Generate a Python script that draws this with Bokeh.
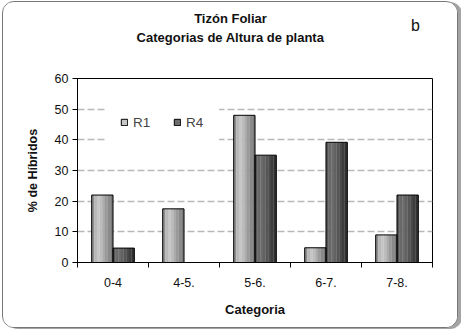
from bokeh.plotting import figure
from bokeh.layouts import column
from bokeh.models import (ColumnDataSource, Range1d, FixedTicker, Legend, LegendItem)
from bokeh.core.properties import value
from bokeh.transform import dodge
from bokeh.embed import file_html
from bokeh.resources import INLINE

categories = ["0-4", "4-5.", "5-6.", "6-7.", "7-8."]
r1 = [22.0, 17.5, 48.0, 4.8, 9.0]
r4 = [4.7, 0.0, 35.0, 39.2, 22.0]
y_ticks = [0, 10, 20, 30, 40, 50, 60]
title_lines = ["Tizón Foliar", "Categorias de Altura de planta"]
panel_letter = "b"

FONT = "Liberation Sans"
W = 454
TOP_H = 66
BL, BR = 74, 25  # borders of the chart frame

# ---- header (titles) ----
# in a column Bokeh aligns the frames, so the header frame spans the same pixels as the chart frame
head = figure(width=W, height=TOP_H, output_backend="svg", toolbar_location=None,
              x_range=Range1d(BL, W - BR), y_range=Range1d(0, TOP_H),
              x_axis_type=None, y_axis_type=None,
              min_border=0, outline_line_color=None)
head.grid.visible = False
head.background_fill_color = "white"
head.border_fill_color = "white"
head.text(x=[227, 227], y=[TOP_H - 16, TOP_H - 35], text=title_lines,
          text_font=value(FONT), text_font_size="13px", text_font_style="bold",
          text_align="center", text_baseline="middle", text_color="#111111")
head.text(x=[412], y=[TOP_H - 23], text=[panel_letter],
          text_font=value(FONT), text_font_size="16px",
          text_align="center", text_baseline="middle", text_color="#111111")

# ---- main chart ----
xc = [i + 0.5 for i in range(len(categories))]
src = ColumnDataSource(dict(x=xc, r1=r1, r4=r4))

p = figure(width=W, height=325 - TOP_H, output_backend="svg", toolbar_location=None,
           x_range=Range1d(0, len(categories)), y_range=Range1d(0, 60),
           min_border_left=BL, min_border_right=BR, min_border_top=10, min_border_bottom=65)
p.background_fill_color = "white"
p.border_fill_color = "white"
p.outline_line_color = "black"
p.outline_line_width = 1

bw = 0.3
n = 8
w = bw / n
c1 = ["#8e8e8e", "#b8b8b8", "#c6c6c6", "#bcbcbc", "#ababab", "#9a9a9a", "#8a8a8a", "#7a7a7a"]
c4 = ["#555555", "#686868", "#6c6c6c", "#626262", "#565656", "#4a4a4a", "#3e3e3e", "#323232"]

r1_strips = []
r4_strips = []
for j in range(n):
    off = -bw + (j + 0.5) * w
    r1_strips.append(p.vbar(x=dodge("x", off), top="r1", bottom=0, width=w * 1.08, source=src,
                            fill_color=c1[j], line_color=None))
    off4 = (j + 0.5) * w
    r4_strips.append(p.vbar(x=dodge("x", off4), top="r4", bottom=0, width=w * 1.08, source=src,
                            fill_color=c4[j], line_color=None))

o1 = p.vbar(x=dodge("x", -bw / 2), top="r1", bottom=0, width=bw, source=src,
            fill_alpha=0, line_color="black", line_width=1)
o4 = p.vbar(x=dodge("x", bw / 2), top="r4", bottom=0, width=bw, source=src,
            fill_alpha=0, line_color="black", line_width=1)

p.yaxis.ticker = FixedTicker(ticks=y_ticks)
p.yaxis.axis_label = "% de Híbridos"
p.xaxis.axis_label = "Categoria"
p.xaxis.ticker = FixedTicker(ticks=xc, minor_ticks=list(range(len(categories) + 1)))
p.xaxis.major_label_overrides = {x: c for x, c in zip(xc, categories)}
for ax in (p.xaxis, p.yaxis):
    ax.axis_line_color = "black"
    ax.major_tick_line_color = "black"
    ax.major_label_text_font = FONT
    ax.major_label_text_font_size = "12.5px"
    ax.major_label_text_color = "#111111"
    ax.axis_label_text_font = FONT
    ax.axis_label_text_font_style = "bold"
    ax.axis_label_text_color = "#111111"
p.xaxis.axis_label_text_font_size = "13px"
p.yaxis.axis_label_text_font_size = "12.5px"
p.yaxis.major_tick_out = 5
p.yaxis.major_tick_in = 0
p.yaxis.minor_tick_line_color = None
p.yaxis.major_label_standoff = 4
p.yaxis.axis_label_standoff = 12
p.xaxis.major_tick_out = 0
p.xaxis.major_tick_in = 0
p.xaxis.minor_tick_out = 5
p.xaxis.minor_tick_in = 0
p.xaxis.minor_tick_line_color = "black"
p.xaxis.major_label_standoff = 10
p.xaxis.axis_label_standoff = 12

p.xgrid.grid_line_color = None
p.ygrid.grid_line_color = "#b8b8b8"
p.ygrid.grid_line_dash = "7 3"
p.ygrid.grid_line_width = 1.5

legend = Legend(items=[LegendItem(label="R1", renderers=[r1_strips[2], o1]),
                       LegendItem(label="R4", renderers=[r4_strips[2], o4])],
                orientation="horizontal", location=(30, 118),
                background_fill_color="white", background_fill_alpha=1,
                border_line_alpha=0, padding=13, spacing=20,
                glyph_width=8, glyph_height=8, label_standoff=5,
                label_text_font=FONT, label_text_font_size="13.5px", label_height=18)
p.add_layout(legend, "center")

layout = column(head, p, spacing=0,
                styles={"border": "1.5px solid #777777", "border-radius": "12px",
                        "box-shadow": "4px 1px 0 #a4a4a4", "overflow": "hidden",
                        "margin-left": "2px", "margin-top": "1px", "background": "white"})

open("out.html", "w").write(file_html(layout, INLINE))
